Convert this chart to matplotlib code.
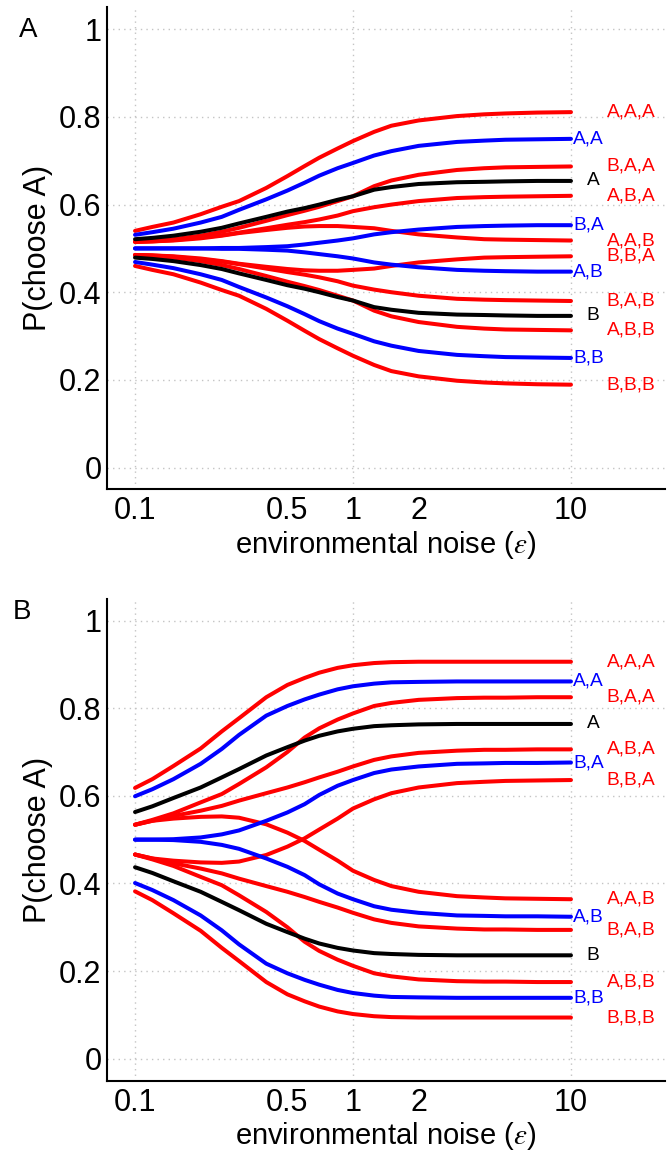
import matplotlib
matplotlib.use("Agg")
import matplotlib.pyplot as plt

plt.rcParams['font.family'] = ['Liberation Sans', 'DejaVu Sans']
plt.rcParams['mathtext.fontset'] = 'stix'

noise = [0.1, 0.12, 0.15, 0.2, 0.25, 0.3, 0.4, 0.5, 0.6, 0.7, 0.85,
         1, 1.25, 1.5, 2, 3, 4, 5, 7, 10]

# ---- Panel A ----
A_AAA = [0.540, 0.549, 0.559, 0.578, 0.595, 0.608, 0.638, 0.665, 0.688, 0.707, 0.728, 0.745, 0.766, 0.780, 0.792, 0.802, 0.806, 0.808, 0.810, 0.811]
A_AA = [0.531, 0.537, 0.545, 0.559, 0.572, 0.588, 0.612, 0.632, 0.650, 0.666, 0.683, 0.695, 0.712, 0.722, 0.734, 0.743, 0.746, 0.748, 0.749, 0.750]
A_A = [0.521, 0.524, 0.529, 0.538, 0.547, 0.557, 0.572, 0.584, 0.592, 0.600, 0.611, 0.619, 0.634, 0.640, 0.647, 0.651, 0.652, 0.653, 0.654, 0.654]
A_BAA = [0.515, 0.517, 0.521, 0.529, 0.538, 0.547, 0.563, 0.576, 0.586, 0.595, 0.608, 0.619, 0.642, 0.655, 0.668, 0.679, 0.683, 0.685, 0.686, 0.687]
A_ABA = [0.515, 0.516, 0.519, 0.525, 0.530, 0.536, 0.546, 0.554, 0.560, 0.566, 0.575, 0.585, 0.594, 0.600, 0.608, 0.615, 0.617, 0.618, 0.619, 0.620]
A_AAB = [0.515, 0.516, 0.518, 0.523, 0.529, 0.535, 0.542, 0.547, 0.550, 0.551, 0.551, 0.549, 0.546, 0.540, 0.532, 0.525, 0.521, 0.520, 0.519, 0.518]
A_BA = [0.500, 0.500, 0.500, 0.500, 0.501, 0.501, 0.503, 0.505, 0.509, 0.513, 0.518, 0.523, 0.532, 0.537, 0.543, 0.549, 0.551, 0.552, 0.553, 0.553]
A_AB = [0.500, 0.500, 0.500, 0.500, 0.499, 0.499, 0.497, 0.495, 0.491, 0.487, 0.482, 0.477, 0.468, 0.463, 0.457, 0.451, 0.449, 0.448, 0.447, 0.447]
A_BBA = [0.485, 0.484, 0.482, 0.477, 0.471, 0.465, 0.458, 0.453, 0.450, 0.449, 0.449, 0.451, 0.454, 0.460, 0.468, 0.475, 0.479, 0.480, 0.481, 0.482]
A_BAB = [0.485, 0.484, 0.481, 0.475, 0.470, 0.464, 0.454, 0.446, 0.440, 0.434, 0.425, 0.415, 0.406, 0.400, 0.392, 0.385, 0.383, 0.382, 0.381, 0.380]
A_ABB = [0.485, 0.483, 0.479, 0.471, 0.462, 0.453, 0.437, 0.424, 0.414, 0.405, 0.392, 0.381, 0.358, 0.345, 0.332, 0.321, 0.317, 0.315, 0.314, 0.313]
A_B = [0.479, 0.476, 0.471, 0.462, 0.453, 0.443, 0.428, 0.416, 0.408, 0.400, 0.389, 0.381, 0.366, 0.360, 0.353, 0.349, 0.348, 0.347, 0.346, 0.346]
A_BB = [0.469, 0.463, 0.455, 0.441, 0.428, 0.412, 0.388, 0.368, 0.350, 0.334, 0.317, 0.305, 0.288, 0.278, 0.266, 0.257, 0.254, 0.252, 0.251, 0.250]
A_BBB = [0.460, 0.451, 0.441, 0.422, 0.405, 0.392, 0.362, 0.335, 0.312, 0.293, 0.272, 0.255, 0.234, 0.220, 0.208, 0.198, 0.194, 0.192, 0.190, 0.189]

# ---- Panel B ----
B_AAA = [0.618, 0.638, 0.668, 0.708, 0.747, 0.777, 0.825, 0.853, 0.869, 0.881, 0.892, 0.898, 0.903, 0.905, 0.906, 0.906, 0.906, 0.906, 0.906, 0.906]
B_AA = [0.599, 0.615, 0.638, 0.673, 0.707, 0.739, 0.783, 0.805, 0.820, 0.831, 0.843, 0.850, 0.856, 0.859, 0.860, 0.861, 0.861, 0.861, 0.861, 0.861]
B_A = [0.563, 0.576, 0.595, 0.619, 0.642, 0.661, 0.692, 0.711, 0.726, 0.737, 0.747, 0.753, 0.759, 0.761, 0.763, 0.764, 0.764, 0.764, 0.764, 0.764]
B_BAA = [0.534, 0.545, 0.560, 0.585, 0.604, 0.627, 0.665, 0.700, 0.733, 0.754, 0.774, 0.788, 0.805, 0.812, 0.819, 0.823, 0.824, 0.824, 0.825, 0.825]
B_ABA = [0.534, 0.543, 0.554, 0.566, 0.577, 0.589, 0.606, 0.619, 0.631, 0.642, 0.655, 0.667, 0.682, 0.690, 0.698, 0.703, 0.705, 0.705, 0.706, 0.706]
B_BA = [0.500, 0.500, 0.501, 0.505, 0.512, 0.521, 0.543, 0.562, 0.581, 0.602, 0.623, 0.636, 0.652, 0.660, 0.667, 0.673, 0.674, 0.675, 0.675, 0.676]
B_BBA = [0.466, 0.457, 0.452, 0.448, 0.447, 0.450, 0.465, 0.484, 0.503, 0.523, 0.548, 0.571, 0.592, 0.606, 0.619, 0.629, 0.632, 0.634, 0.635, 0.636]
B_AAB = [0.534, 0.543, 0.548, 0.552, 0.553, 0.550, 0.535, 0.516, 0.497, 0.477, 0.452, 0.429, 0.408, 0.394, 0.381, 0.371, 0.368, 0.366, 0.365, 0.364]
B_AB = [0.500, 0.500, 0.499, 0.495, 0.488, 0.479, 0.457, 0.438, 0.419, 0.398, 0.377, 0.364, 0.348, 0.340, 0.333, 0.327, 0.326, 0.325, 0.325, 0.324]
B_BAB = [0.466, 0.457, 0.446, 0.434, 0.423, 0.411, 0.394, 0.381, 0.369, 0.358, 0.345, 0.333, 0.318, 0.310, 0.302, 0.297, 0.295, 0.295, 0.294, 0.294]
B_B = [0.437, 0.424, 0.405, 0.381, 0.358, 0.339, 0.308, 0.289, 0.274, 0.263, 0.253, 0.247, 0.241, 0.239, 0.237, 0.236, 0.236, 0.236, 0.236, 0.236]
B_ABB = [0.466, 0.455, 0.440, 0.415, 0.396, 0.373, 0.335, 0.300, 0.267, 0.246, 0.226, 0.212, 0.195, 0.188, 0.181, 0.177, 0.176, 0.176, 0.175, 0.175]
B_BB = [0.401, 0.385, 0.362, 0.327, 0.293, 0.261, 0.217, 0.195, 0.180, 0.169, 0.157, 0.150, 0.144, 0.141, 0.140, 0.139, 0.139, 0.139, 0.139, 0.139]
B_BBB = [0.382, 0.362, 0.332, 0.292, 0.253, 0.223, 0.175, 0.147, 0.131, 0.119, 0.108, 0.102, 0.097, 0.095, 0.094, 0.094, 0.094, 0.094, 0.094, 0.094]

labels3 = ["A,A,A", "B,B,B", "B,A,A", "A,B,B", "A,B,A", "B,A,B", "A,A,B", "B,B,A"]
labels2 = ["A,A", "B,B", "B,A", "A,B"]
labels1 = ["A", "B"]

panelA = {
    3: [A_AAA, A_BBB, A_BAA, A_ABB, A_ABA, A_BAB, A_AAB, A_BBA],
    2: [A_AA, A_BB, A_BA, A_AB],
    1: [A_A, A_B],
}
panelB = {
    3: [B_AAA, B_BBB, B_BAA, B_ABB, B_ABA, B_BAB, B_AAB, B_BBA],
    2: [B_AA, B_BB, B_BA, B_AB],
    1: [B_A, B_B],
}

RED = '#ff0000'
BLUE = '#0000ff'
BLACK = '#000000'

fig = plt.figure(figsize=(6.69, 11.57), dpi=100)
axA = fig.add_axes([0.160, 0.577, 0.834, 0.4166])
axB = fig.add_axes([0.160, 0.066, 0.834, 0.4166])

xticks = [0.1, 0.5, 1, 2, 10]
xtlabels = ["0.1", "0.5", "1", "2", "10"]
yticks = [0, 0.2, 0.4, 0.6, 0.8, 1]
ytlabels = ["0", "0.2", "0.4", "0.6", "0.8", "1"]


def draw(ax, data):
    ax.set_xscale('log')
    ax.set_xlim(0.0744, 27)
    ax.set_ylim(-0.05, 1.05)
    for gx in [0.1, 1, 10]:
        ax.axvline(gx, color='#c4c4c4', lw=1.0, ls=(0, (1, 3)), zorder=0)
    for gy in yticks:
        ax.axhline(gy, color='#c4c4c4', lw=1.0, ls=(0, (1, 3)), zorder=0)
    lw = 2.9
    for vals in data[3]:
        ax.plot(noise, vals, color=RED, lw=lw, solid_capstyle='round',
                solid_joinstyle='round', zorder=2)
    for vals in data[2]:
        ax.plot(noise, vals, color=BLUE, lw=lw, solid_capstyle='round',
                solid_joinstyle='round', zorder=3)
    for vals in data[1]:
        ax.plot(noise, vals, color=BLACK, lw=lw, solid_capstyle='round',
                solid_joinstyle='round', zorder=4)
    fs = 13.8
    for lab, vals in zip(labels3, data[3]):
        ax.text(14.6, vals[-1], lab, color=RED, fontsize=fs, va='center', ha='left')
    for lab, vals in zip(labels2, data[2]):
        ax.text(10.25, vals[-1], lab, color=BLUE, fontsize=fs, va='center', ha='left')
    for lab, vals in zip(labels1, data[1]):
        ax.text(11.8, vals[-1], lab, color=BLACK, fontsize=fs, va='center', ha='left')

    ax.set_xticks(xticks)
    ax.set_xticklabels(xtlabels)
    ax.xaxis.set_minor_locator(matplotlib.ticker.NullLocator())
    ax.set_yticks(yticks)
    ax.set_yticklabels(ytlabels)
    ax.tick_params(length=0, labelsize=22)
    ax.tick_params(axis='y', pad=4)
    ax.tick_params(axis='x', pad=5)
    for s in ['top', 'right']:
        ax.spines[s].set_visible(False)
    for s in ['left', 'bottom']:
        ax.spines[s].set_linewidth(1.5)
    ax.set_xlabel(r'environmental noise ($\varepsilon$)', fontsize=21, labelpad=2)
    ax.set_ylabel('P(choose A)', fontsize=22, labelpad=4)
    ax.set_facecolor('none')


draw(axA, panelA)
draw(axB, panelB)

fig.text(28 / 669, 1 - 30 / 1157, 'A', fontsize=20, ha='center', va='center')
fig.text(22 / 669, 1 - 612 / 1157, 'B', fontsize=20, ha='center', va='center')

fig.savefig('out.png', dpi=100)
